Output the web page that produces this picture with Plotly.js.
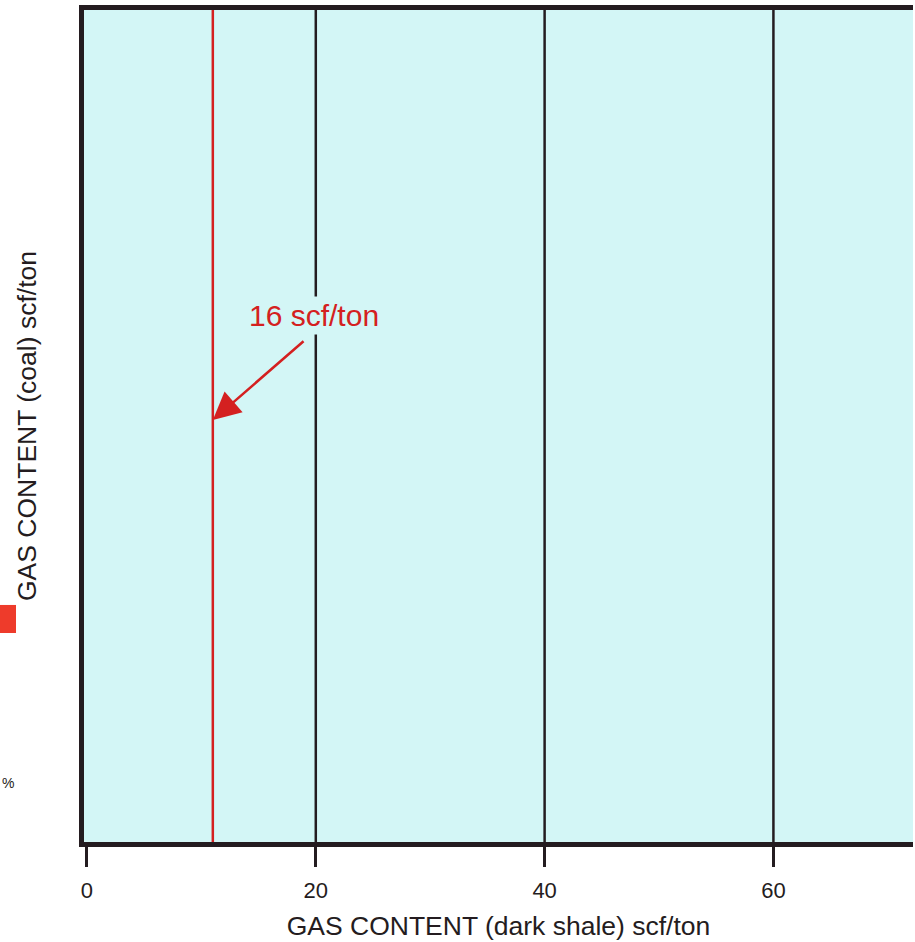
<!DOCTYPE html>
<html>
<head>
<meta charset="utf-8">
<script src="https://cdn.plot.ly/plotly-3.0.1.min.js"></script>
<style>
  html, body { margin: 0; padding: 0; background: #ffffff; }
  #chart { width: 915px; height: 942px; }
</style>
</head>
<body>
<div id="chart"></div>
<script>
// ---- data ----
var xTickVals = [0, 20, 40, 60];
var xTickText = ["0", "20", "40", "60"];
var gridX = [20, 40, 60];
var cutoffX = 11;            // position of the red cut-off line
var cutoffLabel = "16 scf/ton";
var xTitle = "GAS CONTENT (dark shale) scf/ton";
var yTitle = "GAS CONTENT (coal) scf/ton";

var dark = "#241c20";
var red = "#d42020";
var cyan = "#d3f6f6";

var traces = [];
gridX.forEach(function (gx) {
  traces.push({
    type: "scatter", mode: "lines",
    x: [gx, gx], y: [0, 1],
    line: { color: dark, width: 2.5 },
    hoverinfo: "skip", showlegend: false
  });
});
traces.push({
  type: "scatter", mode: "lines",
  x: [cutoffX, cutoffX], y: [0, 1],
  line: { color: red, width: 2.5 },
  hoverinfo: "skip", showlegend: false
});

var layout = {
  width: 915, height: 942,
  margin: { l: 84, r: 2, t: 10, b: 100 },
  paper_bgcolor: "#ffffff",
  plot_bgcolor: cyan,
  font: { family: "Liberation Sans, Arial, sans-serif", color: dark },
  showlegend: false,
  xaxis: {
    range: [-0.26, 72.2],
    tickvals: xTickVals, ticktext: xTickText,
    ticks: "outside", ticklen: 20, tickwidth: 3, tickcolor: dark,
    ticklabelstandoff: 5,
    tickfont: { size: 22, color: dark },
    showgrid: false, zeroline: false,
    showline: true, linewidth: 5, linecolor: dark, mirror: true,
    title: { text: xTitle, font: { size: 26.5, color: dark }, standoff: 16 }
  },
  yaxis: {
    range: [0, 1],
    showticklabels: false, ticks: "",
    showgrid: false, zeroline: false,
    showline: true, linewidth: 5, linecolor: dark, mirror: false,
    title: { text: yTitle, font: { size: 26.5, color: dark }, standoff: 36 }
  },
  shapes: [
    { type: "rect", xref: "paper", yref: "paper",
      x0: -0.1013, x1: -0.082, y0: 0.2512, y1: 0.2849,
      fillcolor: "#ee3b2b", line: { width: 0 } }
  ],
  annotations: [
    { xref: "x", yref: "y", axref: "x", ayref: "y",
      x: cutoffX, y: 0.5072, ax: 19.06, ay: 0.6034,
      text: "", showarrow: true,
      arrowhead: 2, arrowsize: 2.2, arrowwidth: 2.5, arrowcolor: red },
    { xref: "x", yref: "y", x: 19.84, y: 0.6334,
      text: cutoffLabel, showarrow: false,
      font: { size: 30, color: red }, bgcolor: cyan, borderpad: 2 },
    { xref: "paper", yref: "paper", x: -0.082, y: 0.0709,
      xanchor: "right", yanchor: "middle",
      text: "%", showarrow: false, font: { size: 14, color: dark } }
  ]
};

Plotly.newPlot("chart", traces, layout, { displayModeBar: false, staticPlot: true });
</script>
</body>
</html>
